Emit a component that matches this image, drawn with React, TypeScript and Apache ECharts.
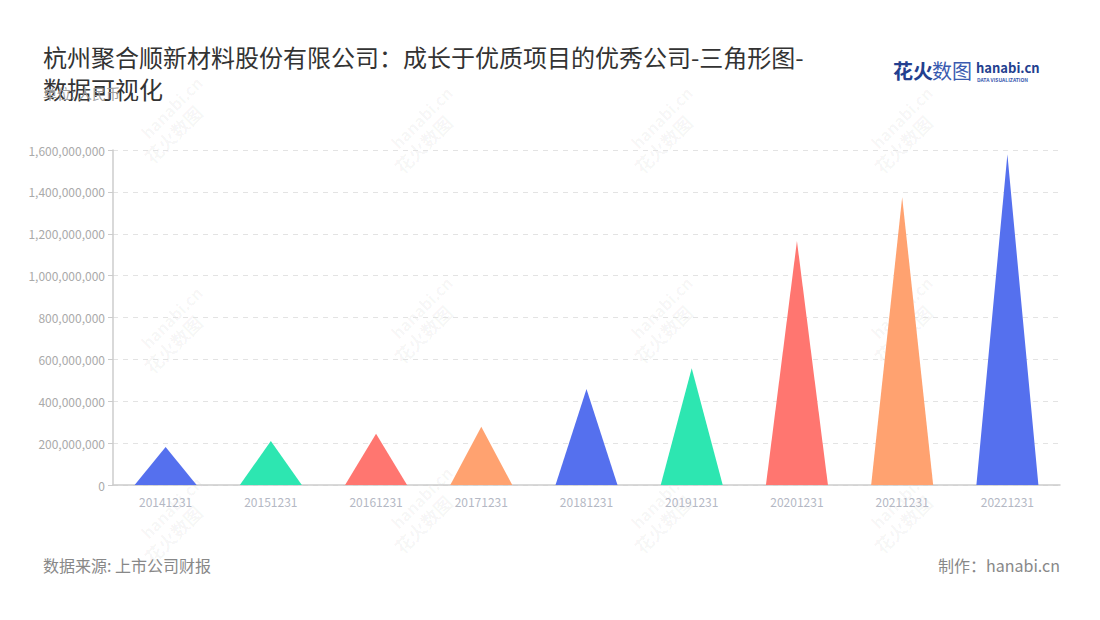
import React, { useEffect, useRef } from "react";
import * as echarts from "echarts";

const categories = ["20141231", "20151231", "20161231", "20171231", "20181231", "20191231", "20201231", "20211231", "20221231"];
const values = [181000000, 210000000, 244000000, 278000000, 458000000, 558000000, 1165000000, 1374000000, 1580000000];
const palette = ["#5570EE", "#2DE6B1", "#FF7670", "#FFA270"];
const titleText = "杭州聚合顺新材料股份有限公司：成长于优质项目的优秀公司-三角形图-\n数据可视化";
const unitText = "单位: 人民币";
const sourceText = "数据来源: 上市公司财报";
const makerText = "制作：hanabi.cn";

const FONT = "'Noto Sans CJK SC', 'Noto Sans', sans-serif";

export default function App() {
  const ref = useRef<HTMLDivElement>(null);
  useEffect(() => {
    document.body.style.margin = "0";
    const chart = echarts.init(ref.current!, null, { renderer: "svg" });
    const watermarkPos: [number, number][] = [
      [170, 120], [420, 130], [660, 130], [900, 130],
      [170, 330], [420, 320], [660, 320], [900, 320],
      [170, 520], [420, 510], [660, 510], [900, 510],
    ];
    const watermarks = watermarkPos.map(([x, y]) => ({
      type: "group",
      x,
      y,
      rotation: Math.PI / 4,
      silent: true,
      z: -1,
      children: [
        {
          type: "text",
          style: {
            text: "hanabi.cn",
            x: 10,
            y: -8,
            align: "center",
            verticalAlign: "middle",
            fill: "rgba(0,0,0,0.045)",
            font: `bold 16px ${FONT}`,
          },
        },
        {
          type: "text",
          style: {
            text: "花火数图",
            x: -8,
            y: 12,
            align: "center",
            verticalAlign: "middle",
            fill: "rgba(0,0,0,0.045)",
            font: `bold 18px ${FONT}`,
          },
        },
      ],
    }));
    chart.setOption({
      animation: false,
      backgroundColor: "#ffffff",
      textStyle: { fontFamily: FONT },
      grid: { left: 113, right: 40, top: 150, bottom: 135, containLabel: false },
      xAxis: {
        type: "category",
        data: categories,
        axisLine: { lineStyle: { color: "#cccccc", width: 1.5 } },
        axisTick: { alignWithLabel: true, lineStyle: { color: "#aaaaaa" } },
        axisLabel: { color: "#b4b8c4", fontSize: 12, margin: 10 },
      },
      yAxis: {
        type: "value",
        min: 0,
        max: 1600000000,
        interval: 200000000,
        axisLine: { show: true, lineStyle: { color: "#cccccc", width: 1.5 } },
        axisTick: { show: true, lineStyle: { color: "#cccccc" } },
        axisLabel: {
          color: "#aaaaaa",
          fontSize: 12,
          margin: 8,
          formatter: (v: number) => v.toLocaleString("en-US"),
        },
        splitLine: { lineStyle: { color: "#e3e3e3", type: [5, 5] } },
      },
      series: [
        {
          type: "pictorialBar",
          symbol: "triangle",
          barWidth: 62,
          symbolSize: ["100%", "100%"],
          data: values.map((v, i) => ({
            value: v,
            itemStyle: { color: palette[i % palette.length] },
          })),
        },
      ],
      graphic: [
        ...watermarks,
        {
          type: "text",
          left: 43,
          top: 40,
          style: {
            text: titleText,
            font: `24px ${FONT}`,
            fill: "#333333",
            lineHeight: 32,
          },
        },
        {
          type: "text",
          left: 43,
          top: 86,
          style: { text: unitText, font: `14px ${FONT}`, fill: "#a0a0a0" },
        },
        {
          type: "text",
          left: 893,
          top: 60,
          style: { text: "花火", font: `bold 20px ${FONT}`, fill: "#233f8f" },
        },
        {
          type: "text",
          left: 932,
          top: 60,
          style: { text: "数图", font: `20px ${FONT}`, fill: "#3a5bb0" },
        },
        {
          type: "text",
          left: 976,
          top: 61,
          style: { text: "hanabi.cn", font: `bold 13px ${FONT}`, fill: "#233f8f" },
        },
        {
          type: "text",
          left: 977,
          top: 77,
          style: { text: "DATA VISUALIZATION", font: `bold 5px ${FONT}`, fill: "#3a5bb0" },
        },
        {
          type: "text",
          left: 43,
          top: 557,
          style: { text: sourceText, font: `16px ${FONT}`, fill: "#888888" },
        },
        {
          type: "text",
          right: 40,
          top: 557,
          style: { text: makerText, font: `16px ${FONT}`, fill: "#888888" },
        },
      ],
    });
    return () => chart.dispose();
  }, []);
  return <div ref={ref} style={{ width: 1100, height: 620 }} />;
}
